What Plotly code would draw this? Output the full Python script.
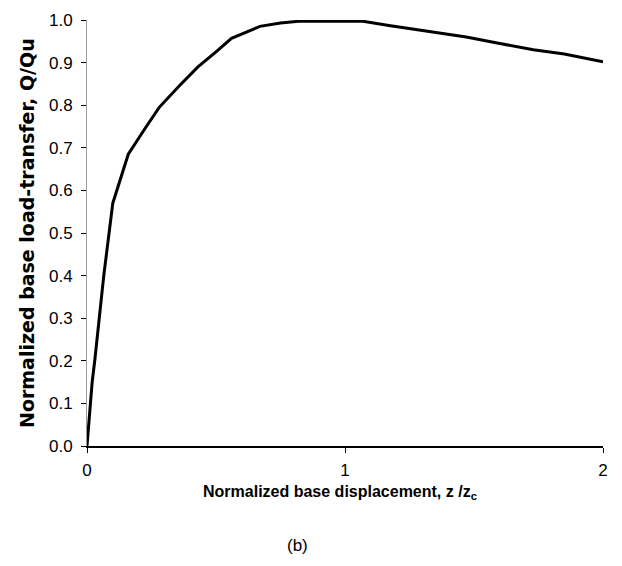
import plotly.graph_objects as go

x_vals = [0, 0.01, 0.02, 0.03, 0.065, 0.1, 0.13, 0.16, 0.23, 0.28, 0.36, 0.43, 0.5, 0.56,
          0.67, 0.75, 0.82, 1.07, 1.17, 1.37, 1.47, 1.6, 1.73, 1.85, 2.0]
y_vals = [0, 0.08, 0.15, 0.2, 0.4, 0.57, 0.63, 0.685, 0.75, 0.795, 0.847, 0.89, 0.925, 0.957,
          0.985, 0.993, 0.997, 0.997, 0.987, 0.969, 0.96, 0.945, 0.93, 0.92, 0.902]
y_ticks = [0.0, 0.1, 0.2, 0.3, 0.4, 0.5, 0.6, 0.7, 0.8, 0.9, 1.0]
y_tick_text = ["0.0", "0.1", "0.2", "0.3", "0.4", "0.5", "0.6", "0.7", "0.8", "0.9", "1.0"]
x_ticks = [0, 1, 2]
x_tick_text = ["0", "1", "2"]

sans = "Liberation Sans, Arial, sans-serif"

fig = go.Figure()
fig.add_trace(go.Scatter(x=x_vals, y=y_vals, mode="lines",
                         line=dict(color="black", width=3), showlegend=False))

fig.update_layout(
    width=622, height=566,
    margin=dict(l=87, r=19, t=20, b=120),
    plot_bgcolor="white", paper_bgcolor="white",
    xaxis=dict(range=[0, 2], tickvals=x_ticks, ticktext=x_tick_text,
               showgrid=False, zeroline=False, showline=True, linecolor="black", linewidth=1.5,
               ticks="outside", ticklen=5, tickcolor="black", ticklabelstandoff=3,
               tickfont=dict(family=sans, size=17, color="black")),
    yaxis=dict(range=[0, 1.0], tickvals=y_ticks, ticktext=y_tick_text,
               showgrid=False, zeroline=False, showline=True, linecolor="#999999", linewidth=1,
               ticks="outside", ticklen=5, tickcolor="black", ticklabelstandoff=5,
               tickfont=dict(family=sans, size=17, color="black")),
    annotations=[
        dict(text="<b>Normalized base displacement, z /z<sub>c</sub></b>", xref="paper", yref="paper",
             x=0.49, y=0, yshift=-46, xanchor="center", yanchor="middle", showarrow=False,
             font=dict(family=sans, size=16, color="black")),
        dict(text="(b)", xref="paper", yref="paper", x=0.408, y=0, yshift=-99,
             xanchor="center", yanchor="middle", showarrow=False,
             font=dict(family=sans, size=17, color="black")),
        dict(text="<b>Normalized base load-transfer, Q/Qu</b>", xref="paper", yref="paper",
             x=0, xshift=-60, y=0.5, textangle=-90, xanchor="center", yanchor="middle",
             showarrow=False, font=dict(family="DejaVu Sans, sans-serif", size=19, color="black")),
    ],
)

fig.write_html("out.html")
